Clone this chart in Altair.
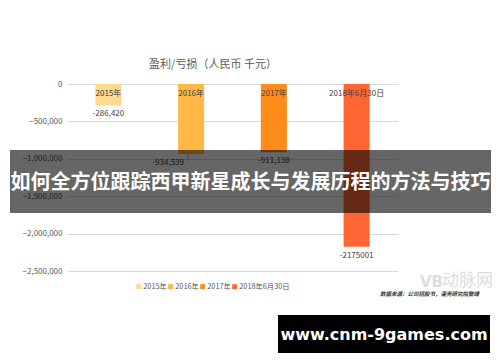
import altair as alt
import pandas as pd

categories = ["2015年", "2016年", "2017年", "2018年6月30日"]
values = [-286420, -934539, -911138, -2175001]
value_labels = ["-286,420", "-934,539", "-911,138", "-2175001"]
colors = ["#FFD98C", "#FFB845", "#FF8C1A", "#FF6633"]
y_ticks = [0, -500000, -1000000, -1500000, -2000000, -2500000]

title_text = "盈利/亏损（人民币 千元）"
banner_text = "如何全方位跟踪西甲新星成长与发展历程的方法与技巧"
url_text = "www.cnm-9games.com"
source_text = "数据来源：公司招股书，蛋壳研究院整理"

df = pd.DataFrame({"cat": categories, "value": values, "label": value_labels})
one = pd.DataFrame({"a": [0]})

CJK = "Noto Sans CJK SC"

yaxis = alt.Axis(values=y_ticks, tickCount=12, format=",d", title=None, domain=False, ticks=False,
                 labelFont=CJK, labelFontSize=8, labelColor="#595959", labelPadding=5,
                 labelOverlap=False, gridColor="#d9d9d9", gridWidth=1)
yscale = alt.Scale(domain=[-2500000, 0], nice=False, zero=False)
xscale = alt.Scale(paddingInner=0.685, paddingOuter=0.3425)


def X():
    return alt.X("cat:N", sort=categories, axis=None, scale=xscale)


def Y():
    return alt.Y("value:Q", scale=yscale, axis=yaxis)


bars = alt.Chart(df).mark_bar().encode(
    x=X(), y=Y(),
    color=alt.Color("cat:N", sort=categories,
                    scale=alt.Scale(domain=categories, range=colors),
                    legend=alt.Legend(title=None, orient="none", legendX=68, legendY=199,
                                      direction="horizontal", symbolType="square", symbolSize=25,
                                      labelFont=CJK, labelFontSize=7.3, labelColor="#595959",
                                      columnPadding=0, symbolStrokeWidth=0, labelOffset=1)),
)

cat_labels = alt.Chart(df).mark_text(font=CJK, fontSize=8, color="#404040", baseline="middle", dy=10).encode(
    x=X(), y=alt.datum(0), text="cat:N"
)

val_main = alt.Chart(df).transform_filter(alt.datum.cat != "2016年").mark_text(
    font=CJK, fontSize=8, color="#404040", baseline="middle", dy=9).encode(
    x=X(), y=Y(), text="label:N")

val_2016 = alt.Chart(df).transform_filter(alt.datum.cat == "2016年").mark_text(
    font=CJK, fontSize=8, color="#404040", baseline="middle", dy=9, dx=-23).encode(
    x=X(), y=Y(), text="label:N")

leader = alt.Chart(df).transform_filter(alt.datum.cat == "2016年").mark_rule(
    color="#a6a6a6", strokeWidth=0.8, xOffset=-3).encode(
    x=X(), y=Y(), y2=alt.datum(-1030000))

title = alt.Chart(one).mark_text(font=CJK, fontSize=11, color="#595959").encode(
    x=alt.value(146), y=alt.value(-19), text=alt.value(title_text))

band = alt.Chart(one).mark_rect(color="#000000", opacity=0.6).encode(
    x=alt.value(-57), x2=alt.value(424), y=alt.value(66), y2=alt.value(129))

banner = alt.Chart(one).mark_text(font=CJK, fontSize=20, fontWeight="bold", color="#ffffff").encode(
    x=alt.value(183.5), y=alt.value(99), text=alt.value(banner_text))

box = alt.Chart(one).mark_rect(color="#000000").encode(
    x=alt.value(211), x2=alt.value(423), y=alt.value(231), y2=alt.value(269))

url = alt.Chart(one).mark_text(font="DejaVu Sans", fontSize=16, fontWeight="bold", color="#ffffff").encode(
    x=alt.value(317), y=alt.value(251), text=alt.value(url_text))

source = alt.Chart(one).mark_text(font=CJK, fontSize=5.5, fontWeight="bold", fontStyle="italic",
                                  color="#333333", align="left").encode(
    x=alt.value(313), y=alt.value(210), text=alt.value(source_text))

wm1 = alt.Chart(one).mark_text(font=CJK, fontSize=17, color="#dddddd", align="left").encode(
    x=alt.value(375), y=alt.value(197), text=alt.value("动脉网"))
wm2 = alt.Chart(one).mark_text(font="DejaVu Sans", fontSize=15, fontWeight="bold", color="#dddddd",
                               align="left").encode(
    x=alt.value(353), y=alt.value(198), text=alt.value("VB"))

chart = alt.layer(bars, cat_labels, val_main, val_2016, leader, title, wm2, wm1, source,
                  band, banner, box, url).properties(
    width=331, height=187,
    autosize=alt.AutoSizeParams(type="none"),
    padding={"left": 59, "top": 76, "right": 94, "bottom": 83},
).configure_view(stroke=None).configure_axis(labelOverlap=False, labelFlush=False)

chart.save("out.html", embed_options={"renderer": "svg", "actions": False})
